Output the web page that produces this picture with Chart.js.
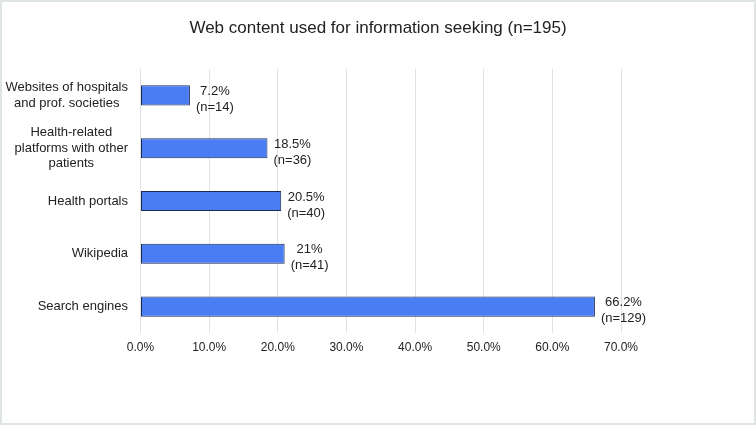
<!DOCTYPE html>
<html>
<head>
<meta charset="utf-8">
<script src="https://cdn.jsdelivr.net/npm/chart.js@4.4.1/dist/chart.umd.min.js"></script>
<style>
  html, body { margin: 0; padding: 0; background: #fff; }
  canvas { display: block; }
</style>
</head>
<body>
<canvas id="chart" width="756" height="425"></canvas>
<script>
const title = "Web content used for information seeking (n=195)";
const categories = [
    ["Websites of hospitals", "and prof. societies"],
    ["Health-related", "platforms with other", "patients"],
    ["Health portals"],
    ["Wikipedia"],
    ["Search engines"],
];
const percents = [7.2, 18.5, 20.5, 21, 66.2];
const counts = [14, 36, 40, 41, 129];
const xTicks = [0, 10, 20, 30, 40, 50, 60, 70];

const FONT = "'Liberation Sans', Arial, sans-serif";
const TEXT = "#222222";

// background, border, title, category labels and value labels
const decorPlugin = {
    id: "decor",
    beforeDraw(chart) {
        const { ctx, width, height } = chart;
        ctx.save();
        ctx.fillStyle = "#ffffff";
        ctx.fillRect(0, 0, width, height);
        ctx.strokeStyle = "#dfe5e5";
        ctx.lineWidth = 2;
        ctx.strokeRect(1, 1, width - 2, height - 2);
        ctx.restore();
    },
    afterDraw(chart) {
        const { ctx, width } = chart;
        const yScale = chart.scales.y;
        ctx.save();
        ctx.fillStyle = TEXT;
        ctx.textBaseline = "middle";
        ctx.textAlign = "center";

        ctx.font = "17px " + FONT;
        ctx.fillText(title, width / 2, 28);

        // category labels: block right aligned, lines centered
        ctx.font = "13px " + FONT;
        categories.forEach((lines, i) => {
            const cy = yScale.getPixelForValue(i);
            const maxW = Math.max(...lines.map(l => ctx.measureText(l).width));
            const cx = 128 - maxW / 2;
            const lh = 15.5;
            const top = cy - (lines.length - 1) * lh / 2;
            lines.forEach((l, j) => ctx.fillText(l, cx, top + j * lh));
        });

        // value labels
        const meta = chart.getDatasetMeta(0);
        meta.data.forEach((bar, i) => {
            const l1 = percents[i] + "%";
            const l2 = "(n=" + counts[i] + ")";
            const w = Math.max(ctx.measureText(l1).width, ctx.measureText(l2).width);
            const cx = bar.x + 6 + w / 2;
            ctx.fillText(l1, cx, bar.y - 4);
            ctx.fillText(l2, cx, bar.y + 12);
        });
        ctx.restore();
    },
};

new Chart(document.getElementById("chart"), {
    type: "bar",
    data: {
        labels: categories.map(c => c.join(" ")),
        datasets: [{
            data: percents,
            backgroundColor: "#4a7cf3",
            borderColor: "#1c2b52",
            borderWidth: 1,
            borderSkipped: false,
            barPercentage: 0.38,
            categoryPercentage: 1,
        }],
    },
    options: {
        indexAxis: "y",
        responsive: false,
        animation: false,
        devicePixelRatio: 1,
        layout: { padding: { top: 69, right: 135, left: 0, bottom: 0 } },
        scales: {
            x: {
                min: 0,
                max: 70,
                afterBuildTicks(scale) {
                    scale.ticks = xTicks.map(v => ({ value: v }));
                },
                afterFit(scale) { scale.height = 92; },
                grid: { color: "#e2e2e2", drawTicks: false },
                border: { display: false },
                ticks: {
                    padding: 7,
                    color: TEXT,
                    font: { family: FONT, size: 12 },
                    callback: v => v.toFixed(1) + "%",
                },
            },
            y: {
                afterFit(scale) { scale.width = 140.5; },
                grid: { display: false },
                border: { display: false },
                ticks: { display: false },
            },
        },
        plugins: {
            legend: { display: false },
            tooltip: { enabled: false },
            title: { display: false },
        },
    },
    plugins: [decorPlugin],
});
</script>
</body>
</html>
